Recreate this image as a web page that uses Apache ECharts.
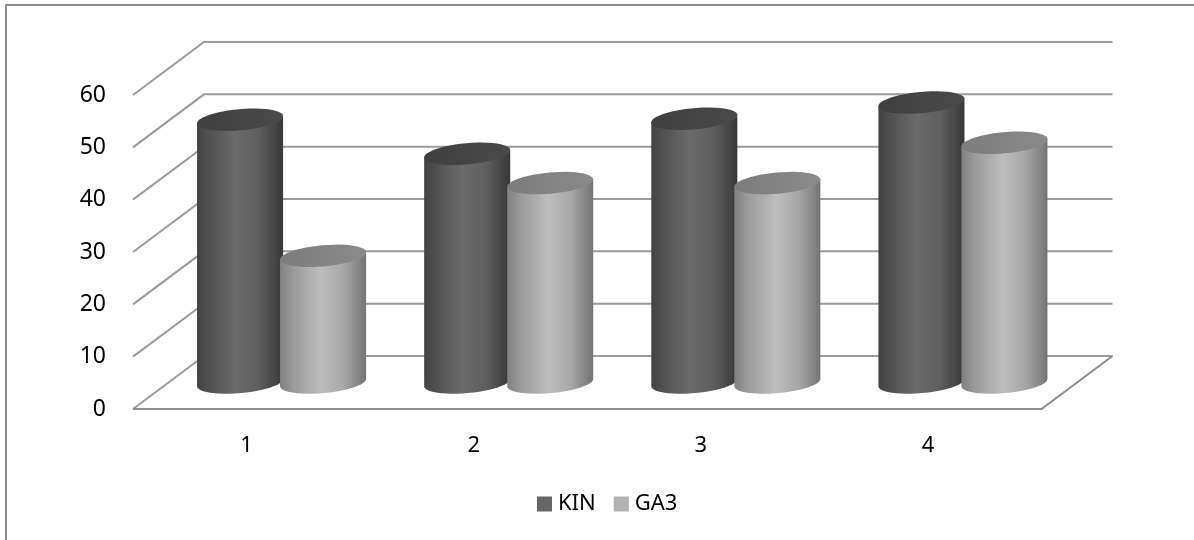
<!DOCTYPE html>
<html>
<head>
<meta charset="utf-8">
<style>html,body{margin:0;padding:0;background:#fff}#chart{width:1194px;height:540px}</style>
<script src="https://cdn.jsdelivr.net/npm/echarts@6/dist/echarts.min.js"></script>
</head>
<body>
<div id="chart"></div>
<script>
const categories = ['1', '2', '3', '4'];
const kin = [50.2, 43.7, 50.4, 53.5];
const ga3 = [24.2, 38.1, 38.1, 45.8];
const yTicks = [0, 10, 20, 30, 40, 50, 60];

// Oblique projection of the chart box
const DEPTH_X = 71, DEPTH_Y = -53;
const BAR_RX = 43.2, BAR_RY = 10.6, BAR_TILT = -0.09;
const FONT = '"Noto Sans"';
const LINE = '#9b9b9b';

function ellipsePoint(cx, cy, t) {
  const c = Math.cos(BAR_TILT), s = Math.sin(BAR_TILT);
  const x = BAR_RX * Math.cos(t), y = BAR_RY * Math.sin(t);
  return [cx + x * c - y * s, cy + x * s + y * c];
}

function cylinder(offset, sideStops, capStops) {
  return function (params, api) {
    const i = api.value(0), v = api.value(1);
    const top = api.coord([i, v]), base = api.coord([i, 0]);
    const cx = top[0] + DEPTH_X / 2 + offset;
    const yTop = top[1] + DEPTH_Y / 2, yBase = base[1] + DEPTH_Y / 2;
    const side = [ellipsePoint(cx, yTop, Math.PI), ellipsePoint(cx, yTop, 0)];
    const cap = [];
    for (let k = 0; k <= 48; k++) {
      const t = Math.PI * k / 24;
      cap.push(ellipsePoint(cx, yTop, t));
      if (k <= 24) side.push(ellipsePoint(cx, yBase, Math.PI * k / 24));
    }
    const grad = stops => ({ type: 'linear', x: 0, y: 0, x2: 1, y2: 0, colorStops: stops });
    return {
      type: 'group',
      children: [
        { type: 'polygon', shape: { points: side }, style: { fill: grad(sideStops) } },
        { type: 'polygon', shape: { points: cap }, style: { fill: grad(capStops) } }
      ]
    };
  };
}

function wallLines(params, api) {
  const box = params.coordSys;
  const v = api.value(1);
  const y = api.coord([0, v])[1];
  const left = box.x, right = box.x + box.width;
  const style = { stroke: LINE, lineWidth: 2, fill: null };
  const children = [{
    type: 'polyline',
    shape: { points: [[left, y], [left + DEPTH_X, y + DEPTH_Y], [right + DEPTH_X, y + DEPTH_Y]] },
    style
  }];
  if (v === 0) {
    children.push({
      type: 'polyline',
      shape: { points: [[left, y], [right, y], [right + DEPTH_X, y + DEPTH_Y]] },
      style: { stroke: '#8c8c8c', lineWidth: 2, fill: null }
    });
  }
  return { type: 'group', children };
}

const stop = (offset, color) => ({ offset, color });
const kinSide = [stop(0, '#424242'), stop(0.12, '#4f4f4f'), stop(0.45, '#6b6b6b'), stop(0.72, '#5e5e5e'), stop(1, '#383838')];
const kinCap = [stop(0, '#3f3f3f'), stop(1, '#4a4a4a')];
const gaSide = [stop(0, '#808080'), stop(0.15, '#9a9a9a'), stop(0.48, '#bdbdbd'), stop(0.75, '#a6a6a6'), stop(1, '#747474')];
const gaCap = [stop(0, '#7c7c7c'), stop(1, '#8a8a8a')];

const chart = echarts.init(document.getElementById('chart'), null, { renderer: 'canvas' });
chart.setOption({
  animation: false,
  backgroundColor: '#ffffff',
  textStyle: { fontFamily: FONT },
  grid: { left: 133, right: 152.5, top: 95, bottom: 131 },
  legend: {
    data: ['KIN', 'GA3'],
    left: 532, top: 488,
    icon: 'rect', itemWidth: 15, itemHeight: 15, itemGap: 18,
    textStyle: { fontFamily: FONT, fontSize: 22, color: '#000', padding: [2, 0, 0, 1] },
    selectedMode: false
  },
  xAxis: {
    type: 'category', data: categories,
    axisLine: { show: false }, axisTick: { show: false }, splitLine: { show: false },
    axisLabel: { margin: 26, fontFamily: FONT, fontSize: 22, color: '#000' }
  },
  yAxis: {
    type: 'value', min: 0, max: 60, interval: 10,
    axisLine: { show: false }, axisTick: { show: false }, splitLine: { show: false },
    axisLabel: { margin: 27, fontFamily: FONT, fontSize: 23, color: '#000' }
  },
  graphic: [{
    type: 'polyline', silent: true,
    shape: { points: [[6, 540], [6, 5], [1194, 5]] },
    style: { stroke: '#8c8c8c', lineWidth: 2, fill: null }
  }],
  series: [
    {
      name: 'walls', type: 'custom', silent: true, clip: false, z: 1,
      data: yTicks.map(v => [0, v]), renderItem: wallLines
    },
    {
      name: 'KIN', type: 'custom', silent: true, clip: false, z: 2,
      itemStyle: { color: '#666666' },
      data: kin.map((v, i) => [i, v]), renderItem: cylinder(-42, kinSide, kinCap)
    },
    {
      name: 'GA3', type: 'custom', silent: true, clip: false, z: 3,
      itemStyle: { color: '#b2b2b2' },
      data: ga3.map((v, i) => [i, v]), renderItem: cylinder(41, gaSide, gaCap)
    }
  ]
});
</script>
</body>
</html>
